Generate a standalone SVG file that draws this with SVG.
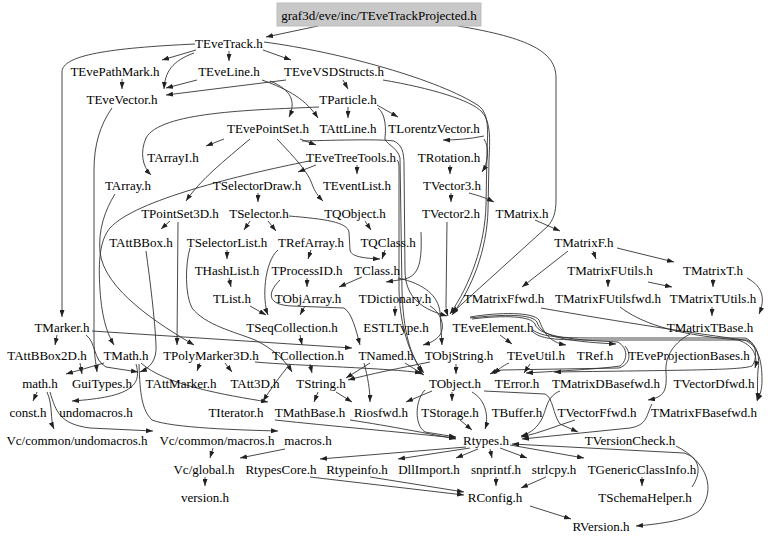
<svg xmlns="http://www.w3.org/2000/svg" width="768" height="542" viewBox="0 0 768 542">
<style>
.e{fill:none;stroke:#333;stroke-width:0.9;marker-end:url(#ah)}
text{font-family:"Liberation Serif","Times New Roman",serif;font-size:13px;text-anchor:middle;fill:#000}
</style>
<defs>
<marker id="ah" viewBox="0 0 7 5" refX="7" refY="2.5" markerWidth="7" markerHeight="5" orient="auto" markerUnits="userSpaceOnUse"><path d="M0,0 L7,2.5 L0,5 z" fill="#222"/></marker>
</defs>
<rect width="768" height="542" fill="#fff"/>
<g id="edges">
<path class="e" d="M318,26 L266,37"/>
<path class="e" d="M458,26 C530,38 556,52 556,78 L556,200 C556,213 553,220 548,226 L452,313"/>
<path class="e" d="M196,50 L162,60"/>
<path class="e" d="M229,51 L229,61"/>
<path class="e" d="M263,50 L291,60"/>
<path class="e" d="M194,53 C172,61 165,72 164,89"/>
<path class="e" d="M195,44 C110,48 62,55 62,72 L62,317"/>
<path class="e" d="M264,42 C340,52 440,80 479,106 C489,114 488,130 487,150 L486,205 C485,245 470,285 450,314"/>
<path class="e" d="M383,80 C430,88 471,100 482,112 C491,122 490,140 489,160 L488,210 C487,250 472,288 452,315"/>
<path class="e" d="M122,79 L122,89"/>
<path class="e" d="M197,80 L166,88"/>
<path class="e" d="M286,80 L166,95"/>
<path class="e" d="M343,80 L348,89"/>
<path class="e" d="M262,80 C290,90 306,100 318,118"/>
<path class="e" d="M270,81 C292,90 296,102 289,117"/>
<path class="e" d="M348,107 L348,118"/>
<path class="e" d="M377,105 L398,117"/>
<path class="e" d="M319,107 C250,110 160,112 146,138 C140,152 142,166 151,175"/>
<path class="e" d="M378,108 C386,114 386,130 385,137 C383,143 398,147 400,158 L402,290 C403,330 410,356 423,372"/>
<path class="e" d="M224,139 L206,146"/>
<path class="e" d="M300,139 L316,145"/>
<path class="e" d="M250,139 C225,160 200,180 186,201"/>
<path class="e" d="M277,139 C295,158 308,172 312,184 C315,192 318,196 323,201"/>
<path class="e" d="M302,141 C340,140 380,139 394,141 C402,145 404,152 404,165 L405,270 C405,300 425,310 447,316"/>
<path class="e" d="M397,160 C399,162 399,165 399,170 L399,290 C400,330 412,360 424,373"/>
<path class="e" d="M357,165 L357,174"/>
<path class="e" d="M316,165 L298,172"/>
<path class="e" d="M309,161 C240,175 135,200 110,228 C100,240 98,260 100,290 C102,320 108,335 114,345"/>
<path class="e" d="M484,139 C490,148 488,163 482,172"/>
<path class="e" d="M484,136 C470,139 455,140 443,140"/>
<path class="e" d="M450,165 L450,174"/>
<path class="e" d="M451,193 L451,202"/>
<path class="e" d="M469,193 C480,196 486,198 494,202"/>
<path class="e" d="M447,222 L446,305 C446,310 447,313 448,316"/>
<path class="e" d="M535,220 L560,231"/>
<path class="e" d="M568,251 L522,287"/>
<path class="e" d="M593,251 L596,259"/>
<path class="e" d="M617,248 L674,262"/>
<path class="e" d="M608,279 L608,287"/>
<path class="e" d="M648,282 L672,287"/>
<path class="e" d="M713,279 L713,287"/>
<path class="e" d="M747,278 C764,287 765,300 759,314"/>
<path class="e" d="M712,307 L712,316"/>
<path class="e" d="M541,308 C620,322 700,334 744,340 C758,345 762,360 762,380 C762,390 760,395 757,401"/>
<path class="e" d="M620,307 C640,322 670,334 738,340 C754,345 758,357 755,368"/>
<path class="e" d="M365,221 L371,230"/>
<path class="e" d="M289,216 C325,219 347,222 349,232 L350,250 C351,256 360,258 380,259"/>
<path class="e" d="M385,250 L382,259"/>
<path class="e" d="M362,277 L339,287"/>
<path class="e" d="M421,232 C422,260 420,275 405,279 L386,282"/>
<path class="e" d="M398,278 C425,284 438,296 440,312 L442,345"/>
<path class="e" d="M395,306 L395,316"/>
<path class="e" d="M430,306 C440,312 446,325 440,335 C435,341 430,343 423,345"/>
<path class="e" d="M258,193 L258,202"/>
<path class="e" d="M250,221 L244,230"/>
<path class="e" d="M268,221 L276,231"/>
<path class="e" d="M227,250 L227,259"/>
<path class="e" d="M311,250 L308,259"/>
<path class="e" d="M229,278 L231,287"/>
<path class="e" d="M307,278 L307,287"/>
<path class="e" d="M250,306 L266,315"/>
<path class="e" d="M305,306 L300,315"/>
<path class="e" d="M278,250 C264,262 262,300 268,315"/>
<path class="e" d="M280,280 C266,294 268,305 292,306 L344,308 C352,313 356,330 360,345"/>
<path class="e" d="M190,248 C185,265 185,295 192,308 C205,325 235,332 255,340 C272,348 285,360 292,372"/>
<path class="e" d="M300,335 L302,345"/>
<path class="e" d="M178,222 L177,345"/>
<path class="e" d="M170,221 L161,229"/>
<path class="e" d="M146,251 C150,280 155,320 156,345 C157,360 150,368 140,372"/>
<path class="e" d="M112,108 C100,125 94,145 94,170 L94,340 C94,355 96,363 97,372"/>
<path class="e" d="M115,194 C105,210 98,230 100,252 C104,290 160,325 194,345"/>
<path class="e" d="M57,335 L55,345"/>
<path class="e" d="M92,331 L352,348"/>
<path class="e" d="M86,335 C96,342 93,360 106,367 L138,372"/>
<path class="e" d="M80,363 L82,374"/>
<path class="e" d="M104,363 L66,374"/>
<path class="e" d="M37,392 L33,401"/>
<path class="e" d="M47,392 C53,405 50,420 54,429"/>
<path class="e" d="M50,392 C56,412 60,424 90,428 L153,431"/>
<path class="e" d="M136,364 C142,385 132,397 72,401"/>
<path class="e" d="M139,364 C140,395 142,410 152,420 C172,428 240,430 278,431"/>
<path class="e" d="M141,363 C165,385 225,395 268,402"/>
<path class="e" d="M200,363 L197,371"/>
<path class="e" d="M225,363 L232,372"/>
<path class="e" d="M255,362 C300,366 390,368 422,373"/>
<path class="e" d="M310,364 L312,373"/>
<path class="e" d="M290,364 C280,376 270,390 263,401"/>
<path class="e" d="M370,363 L346,378"/>
<path class="e" d="M364,363 C368,378 370,390 370,402"/>
<path class="e" d="M405,363 L424,375"/>
<path class="e" d="M430,362 C400,368 370,374 348,380"/>
<path class="e" d="M456,364 L456,374"/>
<path class="e" d="M318,392 L314,402"/>
<path class="e" d="M336,392 L352,402"/>
<path class="e" d="M432,391 L406,402"/>
<path class="e" d="M452,392 L452,401"/>
<path class="e" d="M472,392 C486,400 489,417 485,429"/>
<path class="e" d="M484,391 L545,394 C553,397 553,415 560,424 L578,432"/>
<path class="e" d="M425,390 C415,400 414,425 425,432 L456,437"/>
<path class="e" d="M460,420 L472,430"/>
<path class="e" d="M560,391 C545,397 547,412 540,422 C535,430 528,434 521,436"/>
<path class="e" d="M575,420 C556,426 540,433 521,437"/>
<path class="e" d="M652,404 C646,415 648,425 630,428 L522,439"/>
<path class="e" d="M275,420 C330,426 400,432 456,438"/>
<path class="e" d="M350,420 C390,426 430,434 456,439"/>
<path class="e" d="M213,448 L210,458"/>
<path class="e" d="M285,449 L240,458"/>
<path class="e" d="M205,477 L205,486"/>
<path class="e" d="M466,447 L320,459"/>
<path class="e" d="M470,448 L398,459"/>
<path class="e" d="M478,449 L456,458"/>
<path class="e" d="M490,449 L492,458"/>
<path class="e" d="M500,448 L527,458"/>
<path class="e" d="M510,445 L584,458"/>
<path class="e" d="M692,487 C702,472 700,458 684,453 L512,444"/>
<path class="e" d="M676,446 C708,462 716,490 700,510 C690,520 660,524 636,526"/>
<path class="e" d="M310,477 L464,495"/>
<path class="e" d="M370,477 L464,492"/>
<path class="e" d="M496,477 L496,486"/>
<path class="e" d="M546,477 L521,488"/>
<path class="e" d="M642,477 L642,486"/>
<path class="e" d="M530,506 L571,519"/>
<path class="e" d="M500,335 L512,344"/>
<path class="e" d="M470,317 C500,312 533,312 539,320 C544,333 549,342 566,345"/>
<path class="e" d="M470,318 C505,314 532,314 537,322 C541,336 560,341 616,344"/>
<path class="e" d="M472,319 C505,315 531,316 535,324 C539,338 580,340 618,342 C628,348 628,360 620,366 C600,369 560,371 526,373"/>
<path class="e" d="M533,330 C542,337 560,338 600,338 L745,338 C757,342 758,358 752,366 C740,370 700,370 554,372"/>
<path class="e" d="M533,332 C542,340 560,340 600,340 L747,340 C758,345 760,358 758,370 C757,385 758,393 757,400"/>
<path class="e" d="M625,346 C631,353 631,364 619,368 L502,370 C497,371 494,372 490,374"/>
<path class="e" d="M530,364 L524,373"/>
<path class="e" d="M509,363 C502,366 498,370 494,374"/>
<path class="e" d="M690,334 C670,345 665,360 666,372 C667,390 665,397 648,400"/>
</g>
<g id="n0"><rect x="277" y="3" width="204" height="23" fill="#c8c8c8" stroke="#bdbdbd"/><text x="379" y="19.5">graf3d/eve/inc/TEveTrackProjected.h</text></g>
<g id="n1"><text x="229" y="47.5">TEveTrack.h</text></g>
<g id="n2"><text x="115" y="75.5">TEvePathMark.h</text></g>
<g id="n3"><text x="229" y="75.5">TEveLine.h</text></g>
<g id="n4"><text x="334" y="75.5">TEveVSDStructs.h</text></g>
<g id="n5"><text x="122" y="103.5">TEveVector.h</text></g>
<g id="n6"><text x="348" y="103.5">TParticle.h</text></g>
<g id="n7"><text x="268" y="132.5">TEvePointSet.h</text></g>
<g id="n8"><text x="348" y="132.5">TAttLine.h</text></g>
<g id="n9"><text x="434" y="132.5">TLorentzVector.h</text></g>
<g id="n10"><text x="173" y="161.5">TArrayI.h</text></g>
<g id="n11"><text x="351" y="161.5">TEveTreeTools.h</text></g>
<g id="n12"><text x="449" y="161.5">TRotation.h</text></g>
<g id="n13"><text x="128" y="189.5">TArray.h</text></g>
<g id="n14"><text x="257" y="189.5">TSelectorDraw.h</text></g>
<g id="n15"><text x="357" y="189.5">TEventList.h</text></g>
<g id="n16"><text x="452" y="189.5">TVector3.h</text></g>
<g id="n17"><text x="180" y="217.5">TPointSet3D.h</text></g>
<g id="n18"><text x="259" y="217.5">TSelector.h</text></g>
<g id="n19"><text x="355" y="217.5">TQObject.h</text></g>
<g id="n20"><text x="451" y="217.5">TVector2.h</text></g>
<g id="n21"><text x="522" y="217.5">TMatrix.h</text></g>
<g id="n22"><text x="141" y="246.5">TAttBBox.h</text></g>
<g id="n23"><text x="227" y="246.5">TSelectorList.h</text></g>
<g id="n24"><text x="311" y="246.5">TRefArray.h</text></g>
<g id="n25"><text x="388" y="246.5">TQClass.h</text></g>
<g id="n26"><text x="584" y="246.5">TMatrixF.h</text></g>
<g id="n27"><text x="227" y="274.5">THashList.h</text></g>
<g id="n28"><text x="307" y="274.5">TProcessID.h</text></g>
<g id="n29"><text x="377" y="274.5">TClass.h</text></g>
<g id="n30"><text x="610" y="274.5">TMatrixFUtils.h</text></g>
<g id="n31"><text x="713" y="274.5">TMatrixT.h</text></g>
<g id="n32"><text x="232" y="302.5">TList.h</text></g>
<g id="n33"><text x="308" y="302.5">TObjArray.h</text></g>
<g id="n34"><text x="395" y="302.5">TDictionary.h</text></g>
<g id="n35"><text x="504" y="302.5">TMatrixFfwd.h</text></g>
<g id="n36"><text x="608" y="302.5">TMatrixFUtilsfwd.h</text></g>
<g id="n37"><text x="713" y="302.5">TMatrixTUtils.h</text></g>
<g id="n38"><text x="62" y="331.5">TMarker.h</text></g>
<g id="n39"><text x="292" y="331.5">TSeqCollection.h</text></g>
<g id="n40"><text x="396" y="331.5">ESTLType.h</text></g>
<g id="n41"><text x="493" y="331.5">TEveElement.h</text></g>
<g id="n42"><text x="710" y="331.5">TMatrixTBase.h</text></g>
<g id="n43"><text x="47" y="359.5">TAttBBox2D.h</text></g>
<g id="n44"><text x="126" y="359.5">TMath.h</text></g>
<g id="n45"><text x="211" y="359.5">TPolyMarker3D.h</text></g>
<g id="n46"><text x="308" y="359.5">TCollection.h</text></g>
<g id="n47"><text x="386" y="359.5">TNamed.h</text></g>
<g id="n48"><text x="459" y="359.5">TObjString.h</text></g>
<g id="n49"><text x="536" y="359.5">TEveUtil.h</text></g>
<g id="n50"><text x="595" y="359.5">TRef.h</text></g>
<g id="n51"><text x="689" y="359.5">TEveProjectionBases.h</text></g>
<g id="n52"><text x="40" y="387.5">math.h</text></g>
<g id="n53"><text x="102" y="387.5">GuiTypes.h</text></g>
<g id="n54"><text x="181" y="387.5">TAttMarker.h</text></g>
<g id="n55"><text x="255" y="387.5">TAtt3D.h</text></g>
<g id="n56"><text x="321" y="387.5">TString.h</text></g>
<g id="n57"><text x="455" y="387.5">TObject.h</text></g>
<g id="n58"><text x="517" y="387.5">TError.h</text></g>
<g id="n59"><text x="606" y="387.5">TMatrixDBasefwd.h</text></g>
<g id="n60"><text x="714" y="387.5">TVectorDfwd.h</text></g>
<g id="n61"><text x="28" y="416.5">const.h</text></g>
<g id="n62"><text x="96" y="416.5">undomacros.h</text></g>
<g id="n63"><text x="236" y="416.5">TIterator.h</text></g>
<g id="n64"><text x="310" y="416.5">TMathBase.h</text></g>
<g id="n65"><text x="381" y="416.5">Riosfwd.h</text></g>
<g id="n66"><text x="450" y="416.5">TStorage.h</text></g>
<g id="n67"><text x="517" y="416.5">TBuffer.h</text></g>
<g id="n68"><text x="597" y="416.5">TVectorFfwd.h</text></g>
<g id="n69"><text x="704" y="416.5">TMatrixFBasefwd.h</text></g>
<g id="n70"><text x="77" y="444.5">Vc/common/undomacros.h</text></g>
<g id="n71"><text x="217" y="444.5">Vc/common/macros.h</text></g>
<g id="n72"><text x="308" y="444.5">macros.h</text></g>
<g id="n73"><text x="486" y="444.5">Rtypes.h</text></g>
<g id="n74"><text x="630" y="444.5">TVersionCheck.h</text></g>
<g id="n75"><text x="204" y="473.5">Vc/global.h</text></g>
<g id="n76"><text x="281" y="473.5">RtypesCore.h</text></g>
<g id="n77"><text x="357" y="473.5">Rtypeinfo.h</text></g>
<g id="n78"><text x="429" y="473.5">DllImport.h</text></g>
<g id="n79"><text x="496" y="473.5">snprintf.h</text></g>
<g id="n80"><text x="554" y="473.5">strlcpy.h</text></g>
<g id="n81"><text x="642" y="473.5">TGenericClassInfo.h</text></g>
<g id="n82"><text x="205" y="501.5">version.h</text></g>
<g id="n83"><text x="495" y="501.5">RConfig.h</text></g>
<g id="n84"><text x="645" y="501.5">TSchemaHelper.h</text></g>
<g id="n85"><text x="601" y="530.5">RVersion.h</text></g>
</svg>
